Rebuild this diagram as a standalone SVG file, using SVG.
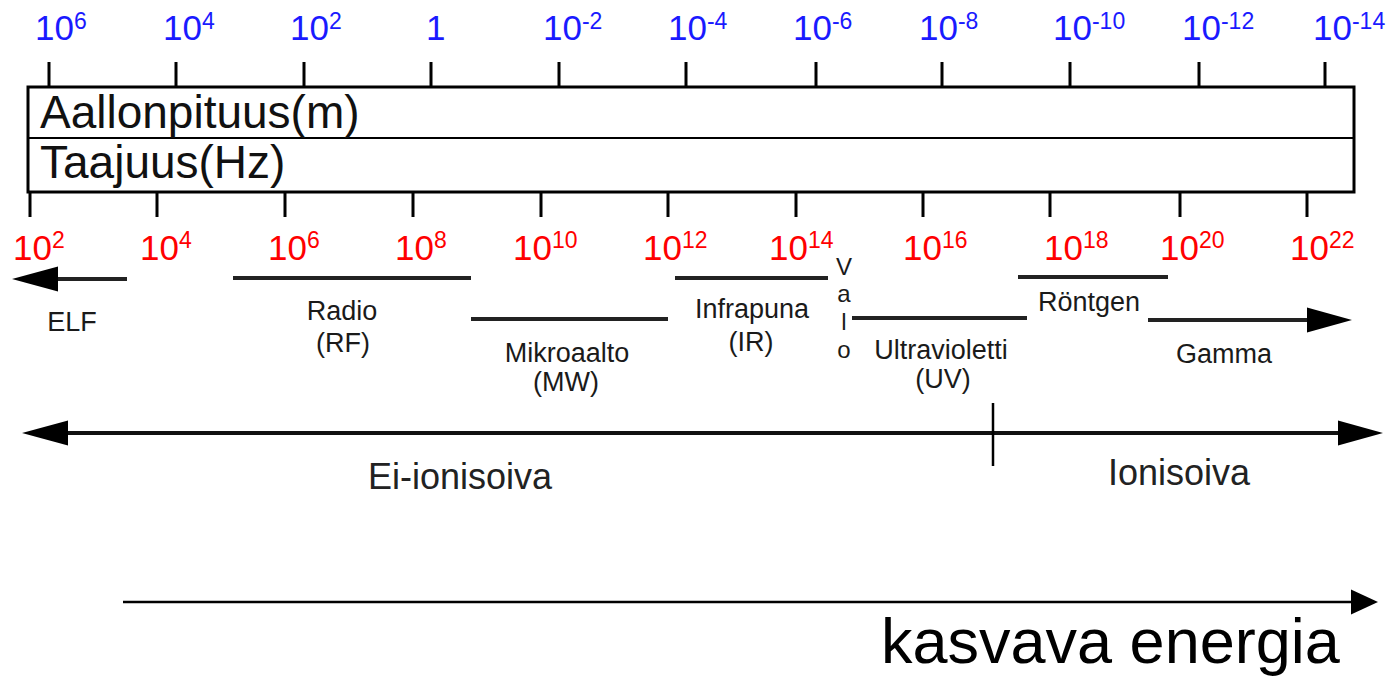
<svg xmlns="http://www.w3.org/2000/svg" width="1398" height="677" viewBox="0 0 1398 677">
<style>
text{font-family:"Liberation Sans",Arial,sans-serif;}
.wl{fill:#1a1aff;font-size:35px;}
.fq{fill:#ff0000;font-size:35px;}
.sup{font-size:23px;}
.lbl{fill:#1a1a1a;font-size:27px;text-anchor:middle;}
.big{fill:#111;font-size:46px;}
.ion{fill:#222;font-size:36px;text-anchor:middle;}
.tick{stroke:#000;stroke-width:3;fill:none;}
.band{stroke:#222;stroke-width:4;fill:none;}
.head{fill:#000;}
</style>
<rect width="1398" height="677" fill="#fff"/>

<g id="wavelength-labels">
<text class="wl" x="35" y="40">10<tspan class="sup" dy="-11">6</tspan></text>
<text class="wl" x="163" y="40">10<tspan class="sup" dy="-11">4</tspan></text>
<text class="wl" x="290" y="40">10<tspan class="sup" dy="-11">2</tspan></text>
<text class="wl" x="426" y="40">1</text>
<text class="wl" x="543" y="40">10<tspan class="sup" dy="-11">-2</tspan></text>
<text class="wl" x="668" y="40">10<tspan class="sup" dy="-11">-4</tspan></text>
<text class="wl" x="793" y="40">10<tspan class="sup" dy="-11">-6</tspan></text>
<text class="wl" x="919" y="40">10<tspan class="sup" dy="-11">-8</tspan></text>
<text class="wl" x="1053" y="40">10<tspan class="sup" dy="-11">-10</tspan></text>
<text class="wl" x="1182" y="40">10<tspan class="sup" dy="-11">-12</tspan></text>
<text class="wl" x="1313" y="40">10<tspan class="sup" dy="-11">-14</tspan></text>
</g>

<g id="scale-box">
<path class="tick" d="M49 62V87M176 62V87M304 62V87M431 62V87M559 62V87M686 62V87M816 62V87M942 62V87M1070 62V87M1199 62V87M1325 62V87"/>
<rect x="28" y="87" width="1326" height="105" fill="none" stroke="#000" stroke-width="3"/>
<line x1="28" y1="138" x2="1354" y2="138" stroke="#000" stroke-width="2"/>
<text class="big" x="40" y="128">Aallonpituus(m)</text>
<text class="big" x="40" y="178">Taajuus(Hz)</text>
<path class="tick" d="M30 192V217M157 192V217M285 192V217M413 192V217M541 192V217M668 192V217M796 192V217M923 192V217M1050 192V217M1180 192V217M1307 192V217"/>
</g>

<g id="frequency-labels">
<text class="fq" x="13" y="260">10<tspan class="sup" dy="-12">2</tspan></text>
<text class="fq" x="140" y="260">10<tspan class="sup" dy="-12">4</tspan></text>
<text class="fq" x="268" y="260">10<tspan class="sup" dy="-12">6</tspan></text>
<text class="fq" x="395" y="260">10<tspan class="sup" dy="-12">8</tspan></text>
<text class="fq" x="513" y="260">10<tspan class="sup" dy="-12">10</tspan></text>
<text class="fq" x="643" y="260">10<tspan class="sup" dy="-12">12</tspan></text>
<text class="fq" x="769" y="260">10<tspan class="sup" dy="-12">14</tspan></text>
<text class="fq" x="903" y="260">10<tspan class="sup" dy="-12">16</tspan></text>
<text class="fq" x="1044" y="260">10<tspan class="sup" dy="-12">18</tspan></text>
<text class="fq" x="1160" y="260">10<tspan class="sup" dy="-12">20</tspan></text>
<text class="fq" x="1290" y="260">10<tspan class="sup" dy="-12">22</tspan></text>
</g>

<g id="connectors">
<line class="band" x1="127" y1="279" x2="55" y2="279"/>
<polygon class="head" points="12,279 58,266.5 58,291.5"/>
<line class="band" x1="233" y1="278" x2="471" y2="278"/>
<line class="band" x1="471" y1="319" x2="668" y2="319"/>
<line class="band" x1="675" y1="278" x2="828" y2="278"/>
<line class="band" x1="852" y1="318" x2="1027" y2="318"/>
<line class="band" x1="1018" y1="277" x2="1168" y2="277"/>
<line class="band" x1="1148" y1="320" x2="1312" y2="320"/>
<polygon class="head" points="1352,320 1307,307.5 1307,332.5"/>
<line x1="62" y1="433" x2="1343" y2="433" stroke="#111" stroke-width="4"/>
<polygon class="head" points="22,433 68,420.5 68,445.5"/>
<polygon class="head" points="1383,433 1338,420.5 1338,445.5"/>
<line x1="993" y1="403" x2="993" y2="466" stroke="#000" stroke-width="2.5"/>
<line x1="123" y1="602" x2="1355" y2="602" stroke="#000" stroke-width="2.5"/>
<polygon class="head" points="1378,602 1351,589.5 1351,614.5"/>
</g>

<g id="elf"><text class="lbl" x="72" y="331">ELF</text></g>
<g id="radio"><text class="lbl" x="342" y="320">Radio</text><text class="lbl" x="343" y="352">(RF)</text></g>
<g id="mikroaalto"><text class="lbl" x="567" y="362">Mikroaalto</text><text class="lbl" x="566" y="391">(MW)</text></g>
<g id="infrapuna"><text class="lbl" x="752" y="318">Infrapuna</text><text class="lbl" x="751" y="351">(IR)</text></g>
<g id="valo">
<text class="lbl" style="font-size:24px"><tspan x="844" y="275">V</tspan><tspan x="844" y="302">a</tspan><tspan x="844" y="330">l</tspan><tspan x="844" y="358">o</tspan></text>
</g>
<g id="ultravioletti"><text class="lbl" x="941" y="359">Ultravioletti</text><text class="lbl" x="943" y="388">(UV)</text></g>
<g id="rontgen"><text class="lbl" x="1089" y="311">Röntgen</text></g>
<g id="gamma"><text class="lbl" x="1224" y="363">Gamma</text></g>
<g id="ei-ionisoiva"><text class="ion" x="460" y="489">Ei-ionisoiva</text></g>
<g id="ionisoiva"><text class="ion" x="1179" y="485">Ionisoiva</text></g>
<g id="energia"><text x="881" y="663" font-size="63" fill="#000">kasvava energia</text></g>
</svg>
